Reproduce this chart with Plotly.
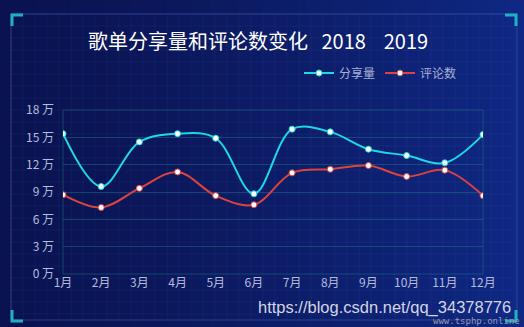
import plotly.graph_objects as go

months = ["1月", "2月", "3月", "4月", "5月", "6月", "7月", "8月", "9月", "10月", "11月", "12月"]
share = [15.4, 9.6, 14.5, 15.4, 14.9, 8.8, 15.9, 15.6, 13.7, 13.0, 12.2, 15.3]
comments = [8.7, 7.3, 9.4, 11.2, 8.6, 7.6, 11.1, 11.5, 11.9, 10.7, 11.4, 8.6]
y_ticks = [0, 3, 6, 9, 12, 15, 18]
y_ticktext = [f"{v}\u00a0万" for v in y_ticks]

W, H = 524, 327
L, R, T, B = 63, 483, 110, 274


def px(x):
    return (x - L) / (R - L)


def py(y):
    return (B - y) / (B - T)


fig = go.Figure()
fig.add_trace(go.Scatter(
    x=months, y=share, name="分享量", mode="lines+markers",
    line=dict(color="#1ed8e3", width=2, shape="spline", smoothing=1.0),
    marker=dict(color="white", size=6, line=dict(color="#1ed8e3", width=1)),
))
fig.add_trace(go.Scatter(
    x=months, y=comments, name="评论数", mode="lines+markers",
    line=dict(color="#dc433d", width=2, shape="spline", smoothing=1.0),
    marker=dict(color="white", size=6, line=dict(color="#dc433d", width=1)),
))

shapes = []
# horizontal gradient background
N = 60
c0 = (10, 19, 80)
c1 = (15, 40, 132)
for i in range(N):
    t = i / (N - 1)
    c = tuple(int(round(c0[k] + (c1[k] - c0[k]) * t ** 1.3)) for k in range(3))
    x0 = W * i / N
    x1 = W * (i + 1) / N + 1
    shapes.append(dict(type="rect", xref="paper", yref="paper",
                       x0=px(x0), x1=px(x1), y0=py(H), y1=py(0),
                       fillcolor=f"rgb{c}", line=dict(width=0), layer="below"))
# faint fine grid pattern
for gx in range(11, 518, 12):
    shapes.append(dict(type="line", xref="paper", yref="paper",
                       x0=px(gx), x1=px(gx), y0=py(320), y1=py(14),
                       line=dict(color="rgba(80,110,200,0.10)", width=1), layer="below"))
for gy in range(14, 321, 12):
    shapes.append(dict(type="line", xref="paper", yref="paper",
                       x0=px(11), x1=px(517), y0=py(gy), y1=py(gy),
                       line=dict(color="rgba(80,110,200,0.10)", width=1), layer="below"))
# outer frame
shapes.append(dict(type="rect", xref="paper", yref="paper",
                   x0=px(11), x1=px(517), y0=py(320), y1=py(14),
                   line=dict(color="rgba(60,90,170,0.6)", width=1), layer="below"))
# corner brackets
bc = "#1fb0c4"
for (cx, cy, dx, dy) in [(12, 15, 1, 1), (516, 15, -1, 1), (12, 321, 1, -1), (516, 321, -1, -1)]:
    shapes.append(dict(type="path", xref="paper", yref="paper",
                       path=f"M {px(cx + dx * 11)} {py(cy)} L {px(cx)} {py(cy)} L {px(cx)} {py(cy + dy * 11)}",
                       line=dict(color=bc, width=3)))
# plot area box
shapes.append(dict(type="rect", xref="paper", yref="paper",
                   x0=0, x1=1, y0=0, y1=1,
                   line=dict(color="rgba(30,110,130,0.55)", width=1), layer="below"))

title = "歌单分享量和评论数变化\u00a0\u00a0\u00a02018\u00a0\u00a0\u00a0\u00a02019"
annotations = [
    dict(text=title, xref="paper", yref="paper",
         x=px(258), y=py(40), xanchor="center", yanchor="middle", showarrow=False,
         font=dict(size=20, color="white", family="Noto Sans CJK SC")),
    dict(text="https://blog.csdn.net/qq_34378776", xref="paper", yref="paper",
         x=px(513), y=py(307), xanchor="right", yanchor="middle", showarrow=False,
         font=dict(size=16.5, color="#d2d4e4", family="Liberation Sans")),
    dict(text="www.tsphp.online", xref="paper", yref="paper",
         x=px(522), y=py(321), xanchor="right", yanchor="middle", showarrow=False,
         font=dict(size=9, color="#9a9aa8", family="DejaVu Sans Mono")),
]

fig.update_layout(
    width=W, height=H,
    margin=dict(l=L, r=W - R, t=T, b=H - B, pad=0),
    paper_bgcolor="#0c1b66",
    plot_bgcolor="rgba(0,0,0,0)",
    showlegend=True,
    legend=dict(orientation="h", x=px(299), y=py(73), xanchor="left", yanchor="middle",
                font=dict(size=12, color="#a8b0d4", family="Noto Sans CJK SC"),
                bgcolor="rgba(0,0,0,0)", itemwidth=30, tracegroupgap=0),
    xaxis=dict(type="category", range=[0, 11], showgrid=False, zeroline=False,
               ticks="", tickfont=dict(size=12, color="#b4bcdc", family="Noto Sans CJK SC"),
               showline=False),
    yaxis=dict(range=[0, 18], tickvals=y_ticks, ticktext=y_ticktext, showgrid=True,
               gridcolor="rgba(35,120,140,0.45)", gridwidth=1, zeroline=False,
               ticks="", ticklabelstandoff=8,
               tickfont=dict(size=12, color="#b4bcdc", family="Noto Sans CJK SC")),
    shapes=shapes,
    annotations=annotations,
    font=dict(family="Noto Sans CJK SC"),
)

fig.write_html("out.html")
